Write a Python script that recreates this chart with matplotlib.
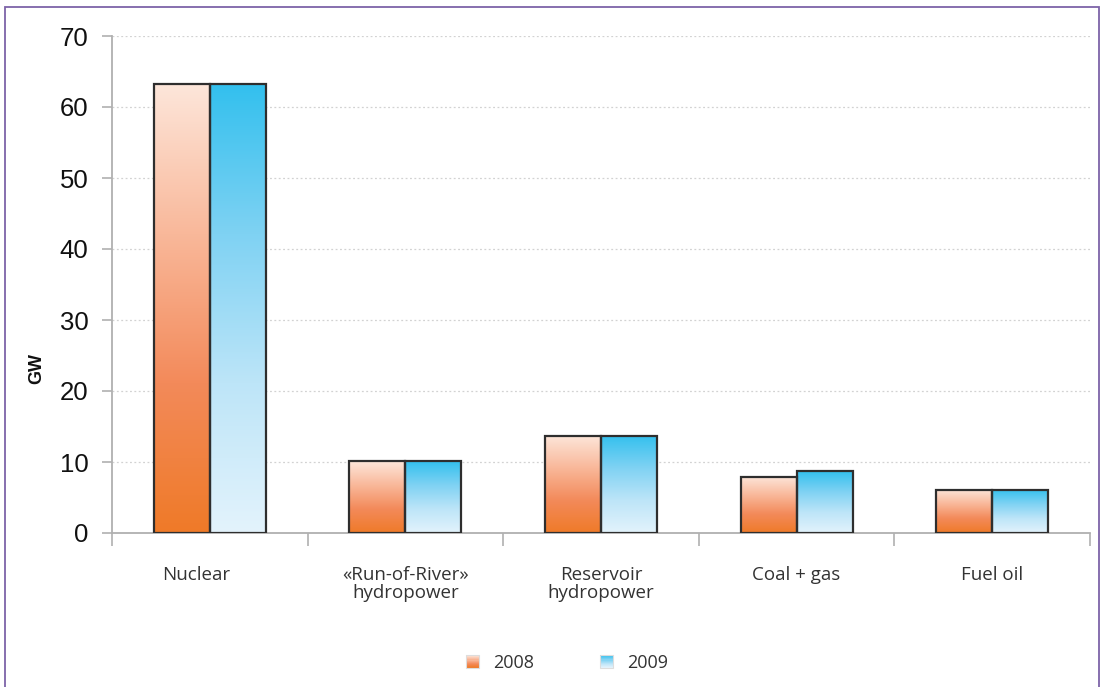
import numpy as np
import matplotlib
matplotlib.use("Agg")
import matplotlib.pyplot as plt
import matplotlib.transforms as mtransforms
from matplotlib.patches import Rectangle
from matplotlib.colors import LinearSegmentedColormap
from matplotlib.legend_handler import HandlerBase

categories = ["Nuclear", "«Run-of-River»\nhydropower", "Reservoir\nhydropower", "Coal + gas", "Fuel oil"]
series_names = ["2008", "2009"]
values_2008 = [63.2, 10.1, 13.7, 7.9, 6.1]
values_2009 = [63.2, 10.1, 13.7, 8.7, 6.1]
yticks = [0, 10, 20, 30, 40, 50, 60, 70]

# gradient colours (top -> bottom)
grad_2008 = ["#fde6da", "#f9b89a", "#f38a5a", "#ef7a28"]
grad_2009 = ["#33c0ee", "#7fd2f3", "#bde5f8", "#e3f3fc"]
cmaps = [LinearSegmentedColormap.from_list("g8", grad_2008),
         LinearSegmentedColormap.from_list("g9", grad_2009)]

W, H = 1105, 687
fig = plt.figure(figsize=(W / 100, H / 100), dpi=100)
ax = fig.add_axes([112 / W, 1 - 533 / H, (1090 - 112) / W, (533 - 36) / H])

x = np.arange(len(categories))
bw = 0.286
grad = np.linspace(0, 1, 256).reshape(-1, 1)
for i, (vals, cm) in enumerate(zip([values_2008, values_2009], cmaps)):
    bars = ax.bar(x + (i - 0.5) * bw, vals, width=bw, facecolor="none",
                  edgecolor="#2e2e2e", linewidth=1.6, zorder=4)
    for b in bars:
        x0, w, h = b.get_x(), b.get_width(), b.get_height()
        ax.imshow(grad, cmap=cm, extent=(x0, x0 + w, 0, h), aspect="auto",
                  origin="upper", zorder=3, interpolation="bicubic")

ax.set_xlim(-0.5, len(categories) - 0.5)
ax.set_ylim(0, 70)
ax.set_yticks(yticks)
ax.set_yticklabels([str(t) for t in yticks], fontsize=18.5, family="Liberation Sans", color="#111111")
for t in yticks[1:]:
    ax.axhline(t, color="#d2d2d2", linestyle=(0, (1.5, 2)), linewidth=0.9, zorder=1)

ax.set_xticks(x)
ax.set_xticklabels(categories, fontsize=13.5, family="Open Sans", color="#333333", linespacing=1.0)
ax.tick_params(axis="x", which="major", length=0, pad=24)
ax.set_xticks(np.arange(-0.5, len(categories)), minor=True)
ax.tick_params(axis="x", which="minor", length=9, color="#b0b0b0", width=1.2)
ax.tick_params(axis="y", length=7, color="#b0b0b0", width=1.2, pad=10)

# the first category label sits slightly left of its centre in the original
lbl0 = ax.get_xticklabels()[0]
lbl0.set_transform(lbl0.get_transform() + mtransforms.ScaledTranslation(-0.14, 0, fig.dpi_scale_trans))

for s in ["top", "right"]:
    ax.spines[s].set_visible(False)
for s in ["left", "bottom"]:
    ax.spines[s].set_color("#b0b0b0")
    ax.spines[s].set_linewidth(1.3)

fig.text(37 / W, 1 - 368 / H, "GW", rotation=90, fontsize=13, fontweight="bold",
         family="Liberation Sans", ha="center", va="center", color="#111111")

# frame
fig.patches.append(Rectangle((5 / W, -0.05), (1099 - 5) / W, 1.05 - 7 / H,
                             transform=fig.transFigure, fill=False,
                             edgecolor="#7d63a8", linewidth=1.3))


class GradHandler(HandlerBase):
    def __init__(self, cmap):
        super().__init__()
        self.cmap = cmap

    def create_artists(self, legend, orig_handle, xdescent, ydescent, width, height, fontsize, trans):
        arts = []
        n = 12
        s = height
        x0 = xdescent + (width - s) / 2
        for k in range(n):
            r = Rectangle((x0, -ydescent + s * (n - 1 - k) / n), s, s / n,
                          facecolor=self.cmap(k / (n - 1)), edgecolor="none", transform=trans)
            arts.append(r)
        arts.append(Rectangle((x0, -ydescent), s, s, fill=False, edgecolor="#dddddd",
                              linewidth=0.8, transform=trans))
        return arts


handles = [Rectangle((0, 0), 1, 1) for _ in series_names]
leg = fig.legend(handles, series_names, loc="center", bbox_to_anchor=(567 / W, 1 - 663 / H),
                 ncol=2, frameon=False, handler_map={h: GradHandler(c) for h, c in zip(handles, cmaps)},
                 handlelength=0.75, handleheight=0.75, columnspacing=3.6, handletextpad=0.8,
                 prop={"family": "Open Sans", "size": 13})
for t in leg.get_texts():
    t.set_color("#333333")

fig.savefig("out.png", dpi=100)
